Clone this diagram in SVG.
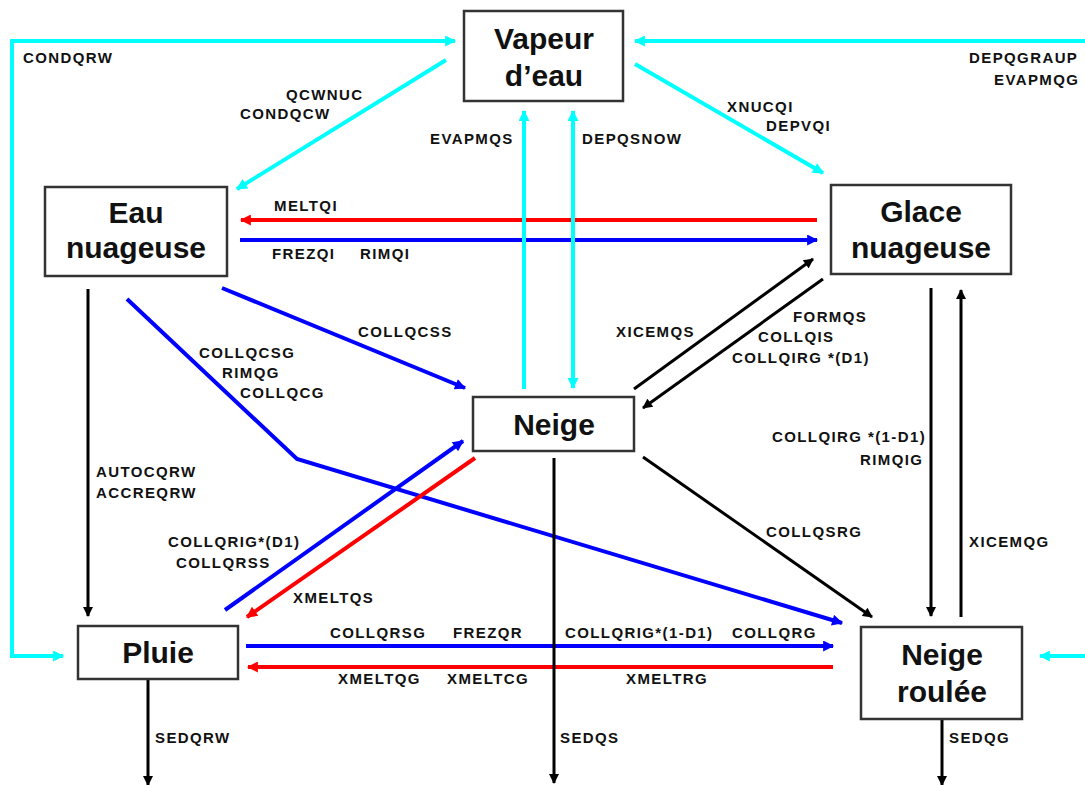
<svg xmlns="http://www.w3.org/2000/svg" width="1085" height="785" viewBox="0 0 1085 785">
<style>
.box{fill:#fff;stroke:#333;stroke-width:2.5}
.nt{font-family:"Liberation Sans",Arial,sans-serif;font-weight:bold;font-size:30px;fill:#111;text-anchor:middle}
.lb{font-family:"Liberation Sans",Arial,sans-serif;font-weight:bold;font-size:15px;fill:#111;letter-spacing:1.4px}
.c{fill:none;stroke:#00FFFF;stroke-width:4}
.r{fill:none;stroke:#FF0000;stroke-width:4}
.b{fill:none;stroke:#0000FF;stroke-width:4}
.k{fill:none;stroke:#000;stroke-width:3}
</style>
<defs>
<marker id="mc" viewBox="0 0 10 10" refX="9" refY="5" markerWidth="13" markerHeight="11" markerUnits="userSpaceOnUse" orient="auto-start-reverse"><path d="M0,0L10,5L0,10z" fill="#00FFFF"/></marker>
<marker id="mr" viewBox="0 0 10 10" refX="9" refY="5" markerWidth="13" markerHeight="11" markerUnits="userSpaceOnUse" orient="auto-start-reverse"><path d="M0,0L10,5L0,10z" fill="#FF0000"/></marker>
<marker id="mb" viewBox="0 0 10 10" refX="9" refY="5" markerWidth="13" markerHeight="11" markerUnits="userSpaceOnUse" orient="auto-start-reverse"><path d="M0,0L10,5L0,10z" fill="#0000FF"/></marker>
<marker id="mk" viewBox="0 0 10 10" refX="9" refY="5" markerWidth="12" markerHeight="10" markerUnits="userSpaceOnUse" orient="auto-start-reverse"><path d="M0,0L10,5L0,10z" fill="#000"/></marker>
</defs>
<rect width="1085" height="785" fill="#fff"/>
<g id="connectors">
<path class="c" d="M455,41H12V656H63" marker-start="url(#mc)" marker-end="url(#mc)"/>
<path class="c" d="M1085,41H635" marker-end="url(#mc)"/>
<path class="c" d="M1085,656H1040" marker-end="url(#mc)"/>
<path class="c" d="M446,60L237,189" marker-end="url(#mc)"/>
<path class="c" d="M635,64L823,173" marker-end="url(#mc)"/>
<path class="r" d="M817,220H241" marker-end="url(#mr)"/>
<path class="b" d="M240,240H817" marker-end="url(#mb)"/>
<path class="c" d="M524,389V111" marker-end="url(#mc)"/>
<path class="c" d="M573,111V388" marker-start="url(#mc)" marker-end="url(#mc)"/>
<path class="b" d="M222,288L465,388" marker-end="url(#mb)"/>
<path class="b" d="M127,299L297,459L842,623" marker-end="url(#mb)"/>
<path class="k" d="M88,289V616" marker-end="url(#mk)"/>
<path class="b" d="M225,610L463,441" marker-end="url(#mb)"/>
<path class="r" d="M475,458L247,617" marker-end="url(#mr)"/>
<path class="b" d="M246,646H833" marker-end="url(#mb)"/>
<path class="r" d="M833,667H248" marker-end="url(#mr)"/>
<path class="k" d="M148,679V785" marker-end="url(#mk)"/>
<path class="k" d="M554,458V783" marker-end="url(#mk)"/>
<path class="k" d="M942,719V785" marker-end="url(#mk)"/>
<path class="k" d="M634,389L813,259" marker-end="url(#mk)"/>
<path class="k" d="M823,279L643,408" marker-end="url(#mk)"/>
<path class="k" d="M643,457L872,617" marker-end="url(#mk)"/>
<path class="k" d="M931,288V616" marker-end="url(#mk)"/>
<path class="k" d="M961,617V290" marker-end="url(#mk)"/>
</g>
<g id="labels">
<text class="lb" x="23" y="63">CONDQRW</text>
<text class="lb" x="286" y="100">QCWNUC</text>
<text class="lb" x="240" y="119">CONDQCW</text>
<text class="lb" x="430" y="144">EVAPMQS</text>
<text class="lb" x="582" y="144">DEPQSNOW</text>
<text class="lb" x="969" y="63">DEPQGRAUP</text>
<text class="lb" x="994" y="85">EVAPMQG</text>
<text class="lb" x="727" y="112">XNUCQI</text>
<text class="lb" x="766" y="131">DEPVQI</text>
<text class="lb" x="274" y="211">MELTQI</text>
<text class="lb" x="272" y="259">FREZQI</text>
<text class="lb" x="360" y="259">RIMQI</text>
<text class="lb" x="358" y="337">COLLQCSS</text>
<text class="lb" x="199" y="358">COLLQCSG</text>
<text class="lb" x="222" y="378">RIMQG</text>
<text class="lb" x="240" y="398">COLLQCG</text>
<text class="lb" x="96" y="477">AUTOCQRW</text>
<text class="lb" x="96" y="498">ACCREQRW</text>
<text class="lb" x="616" y="337">XICEMQS</text>
<text class="lb" x="793" y="322">FORMQS</text>
<text class="lb" x="758" y="342">COLLQIS</text>
<text class="lb" x="732" y="363">COLLQIRG *(D1)</text>
<text class="lb" x="772" y="442">COLLQIRG *(1-D1)</text>
<text class="lb" x="860" y="465">RIMQIG</text>
<text class="lb" x="168" y="547">COLLQRIG*(D1)</text>
<text class="lb" x="176" y="568">COLLQRSS</text>
<text class="lb" x="293" y="603">XMELTQS</text>
<text class="lb" x="330" y="638">COLLQRSG</text>
<text class="lb" x="453" y="638">FREZQR</text>
<text class="lb" x="565" y="638">COLLQRIG*(1-D1)</text>
<text class="lb" x="732" y="638">COLLQRG</text>
<text class="lb" x="338" y="684">XMELTQG</text>
<text class="lb" x="447" y="684">XMELTCG</text>
<text class="lb" x="626" y="684">XMELTRG</text>
<text class="lb" x="766" y="537">COLLQSRG</text>
<text class="lb" x="969" y="547">XICEMQG</text>
<text class="lb" x="155" y="743">SEDQRW</text>
<text class="lb" x="560" y="743">SEDQS</text>
<text class="lb" x="949" y="743">SEDQG</text>
</g>
<g id="vapeur">
<rect class="box" x="464" y="11" width="159" height="90"/>
<text class="nt" x="544" y="49">Vapeur</text>
<text class="nt" x="544" y="86">d’eau</text>
</g>
<g id="eau-nuageuse">
<rect class="box" x="45" y="187" width="182" height="89"/>
<text class="nt" x="136" y="223">Eau</text>
<text class="nt" x="136" y="258">nuageuse</text>
</g>
<g id="glace-nuageuse">
<rect class="box" x="831" y="185" width="180" height="89"/>
<text class="nt" x="921" y="222">Glace</text>
<text class="nt" x="921" y="258">nuageuse</text>
</g>
<g id="neige">
<rect class="box" x="473" y="397" width="161" height="54"/>
<text class="nt" x="554" y="435">Neige</text>
</g>
<g id="pluie">
<rect class="box" x="78" y="626" width="160" height="53"/>
<text class="nt" x="158" y="663">Pluie</text>
</g>
<g id="neige-roulee">
<rect class="box" x="861" y="627" width="161" height="92"/>
<text class="nt" x="942" y="665">Neige</text>
<text class="nt" x="942" y="702">roulée</text>
</g>
</svg>
